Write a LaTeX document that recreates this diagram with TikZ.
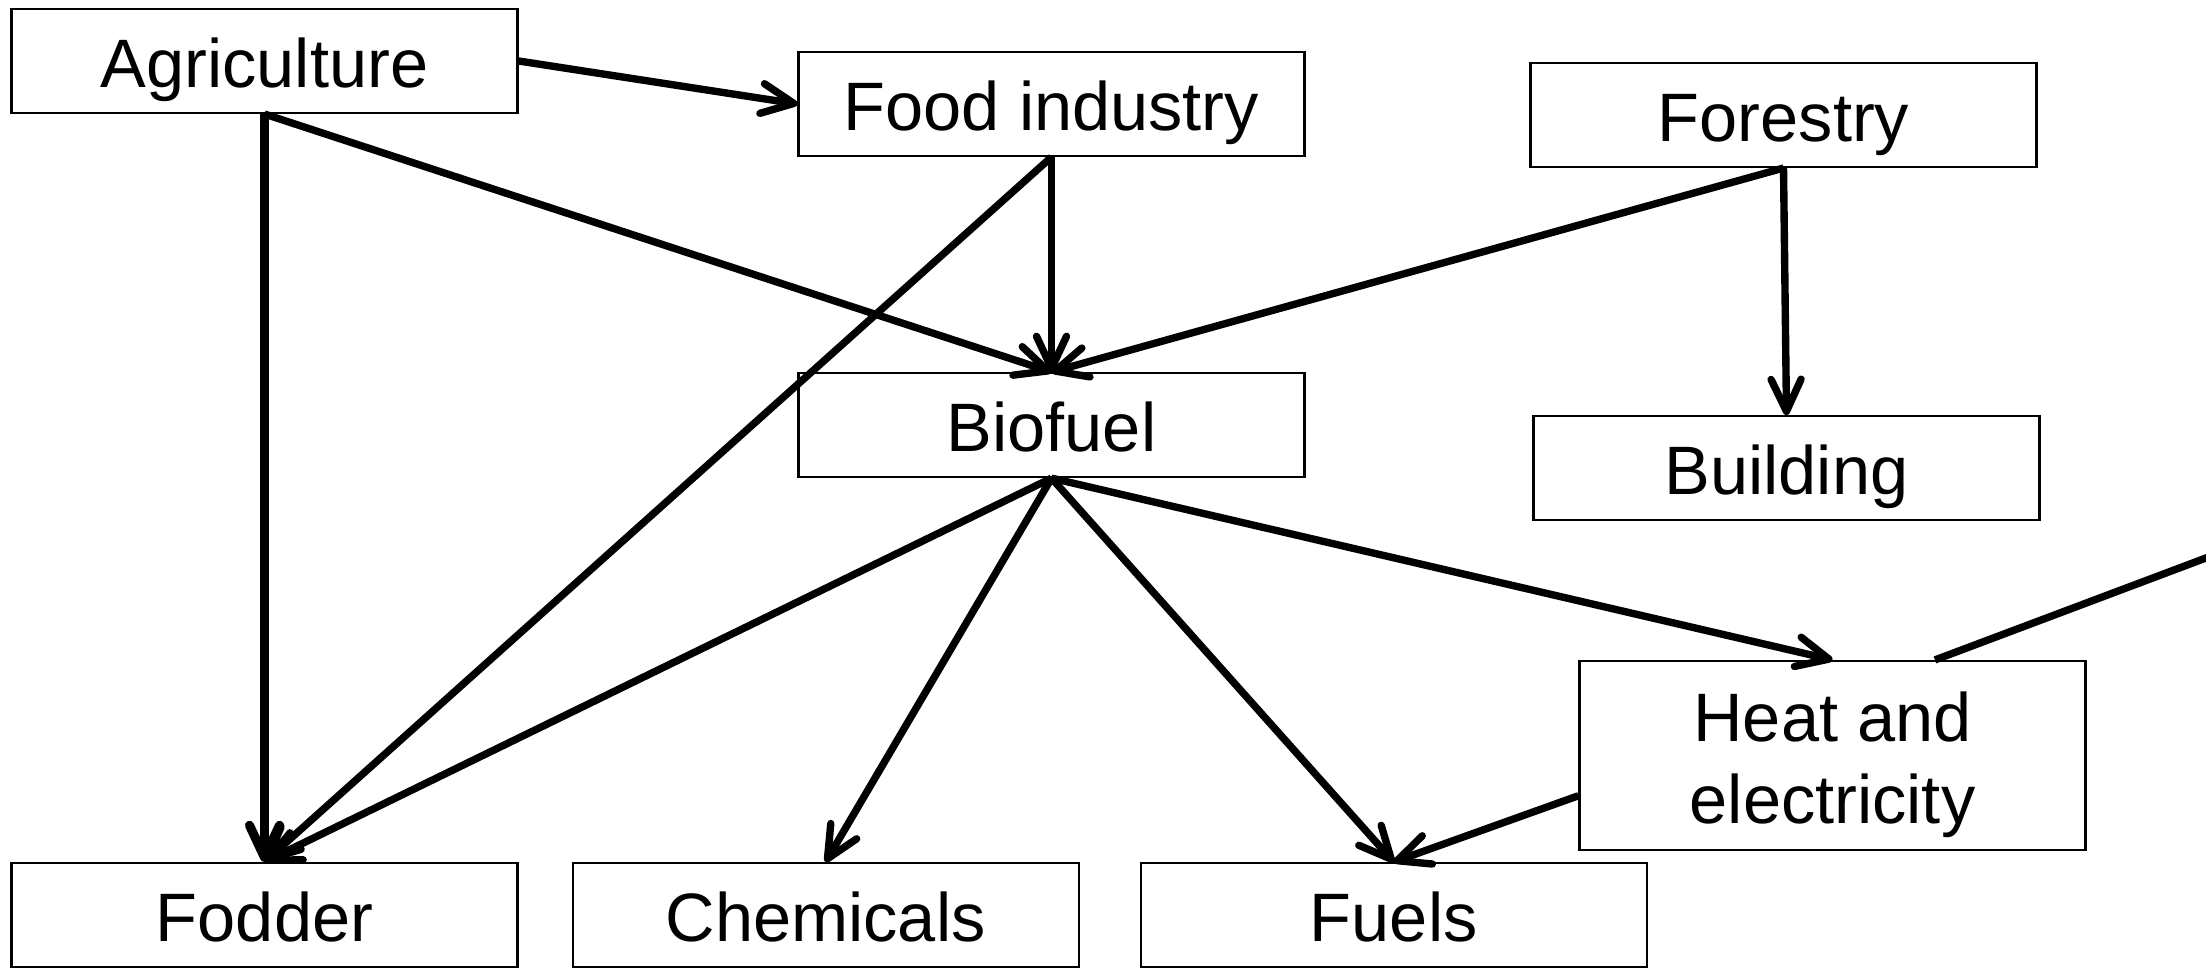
\documentclass[tikz,border=0pt]{standalone}
\usepackage{fontspec}
\setmainfont{Liberation Sans}
\usetikzlibrary{arrows.meta, positioning}

\begin{document}
\begin{tikzpicture}[
	nodes = {
		align = center
	},
	lines/.style={
		line width=2.1pt,
		>={Straight Barb[length=3.2mm, width=3mm, round]}
	},
	sector/.style={
		rectangle,
		draw=black,
		line width=0.6pt,
		minimum width=5.06cm,
		minimum height=1.04cm,
		inner sep=0pt,
		text height=17.55pt,
		text depth=2.3pt,
		text centered,
		font=\fontsize{19.5}{23.3}\selectfont
	}
]
	\useasboundingbox (0,0) rectangle (22.06,9.68);

	\node[sector] (agri) at (2.645,9.07) {Agriculture};

	\node[sector] (food) at (10.515,8.64) {Food industry};

	\node[sector] (forest) at (17.835,8.53) {Forestry};

	\node[sector] (biofuel) [below=2.15cm of food] {Biofuel};

	\node[sector] (building) [below=2.47cm of forest, xshift=0.03cm] {Building};

	\node[sector, minimum height=1.89cm, text height=40.85pt] (heat) at (18.325,2.125) {Heat and\\electricity};
	%%
	\node[sector] (fodder) at (2.645,0.53) {Fodder};

	\node[sector] (chem) [right=0.53cm of fodder] {Chemicals};

	\node[sector] (fuels) [right=0.6cm of chem] {Fuels};

	\coordinate (offpage) at (24.0,4.83);

	\draw[lines,->] (agri.east) -- (food.west);
	\draw[lines,->,line width=2.6pt] (agri.south) -- (fodder.north);
	\draw[lines,->] (agri.south) -- (biofuel.north);

	\draw[lines,->] (food.south) -- (biofuel.north);
	\draw[lines,->] (food.south) -- (fodder.north);

	\draw[lines,->] (forest.south) -- (biofuel.north);
	\draw[lines,->] (forest.south) -- (building.north);

	\draw[lines,->] (biofuel.south) -- (fodder.north);
	\draw[lines,->] (biofuel.south) -- (chem.north);
	\draw[lines,->] (biofuel.south) -- (fuels.north);
	\draw[lines,->] (biofuel.south) -- (heat.north);

	\draw[lines,->] (heat.189) -- (fuels.north);

	\begin{scope}
		\clip (0,0) rectangle (22.06,9.68);
		\draw[lines,->] (heat.43) -- (offpage);
	\end{scope}
\end{tikzpicture}
\end{document}
